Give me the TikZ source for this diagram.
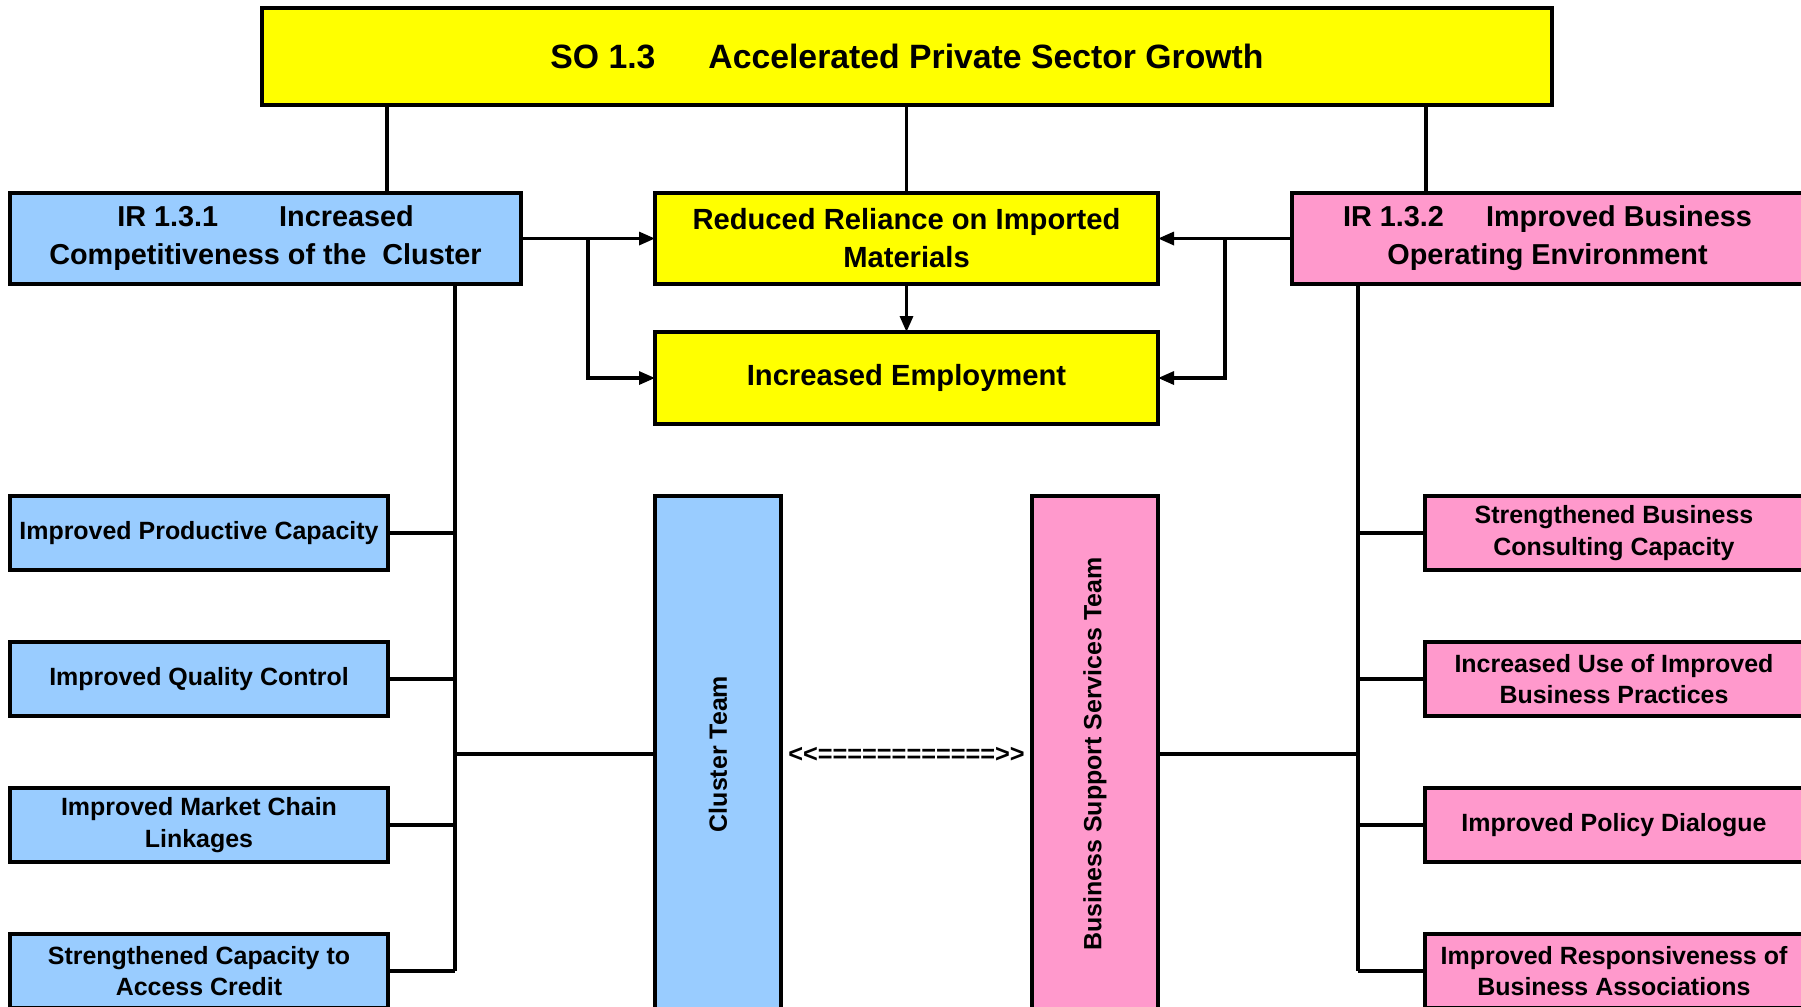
\documentclass[tikz,border=0pt]{standalone}
\usepackage{fontspec}
\setmainfont{Liberation Sans}
\usetikzlibrary{positioning,arrows.meta}

\definecolor{soyellow}{RGB}{255,255,0}
\definecolor{irblue}{RGB}{153,204,255}
\definecolor{irpink}{RGB}{255,153,204}

\begin{document}
\begin{tikzpicture}[line width=0.9pt]
        \tikzstyle{box}=[draw, line width=0.9pt, align=center, inner sep=0pt, outer sep=0pt];
        \tikzstyle{irbox}=[box, minimum width=5.11cm, minimum height=0.91cm, font=\fontsize{8.2}{10.8}\selectfont\bfseries];
        \tikzstyle{midbox}=[box, fill=soyellow, minimum width=5.03cm, minimum height=0.91cm, font=\fontsize{8.3}{10.8}\selectfont\bfseries];
        \tikzstyle{subbox}=[box, minimum width=3.78cm, minimum height=0.74cm, font=\fontsize{7.1}{9}\selectfont\bfseries];
        \tikzstyle{teambox}=[box, minimum width=1.26cm, minimum height=5.16cm, font=\fontsize{7.1}{9}\selectfont\bfseries];
        \tikzstyle{arr}=[-{Triangle[length=1.6mm,width=1.3mm]}];
        \useasboundingbox (0,0) rectangle (18.01,-10.06);
        \clip (0,0) rectangle (18.01,-10.06);
        \node[box, fill=soyellow, minimum width=12.9cm, minimum height=0.97cm, font=\fontsize{9.6}{11.5}\selectfont\bfseries] (so) at (9.07,-0.565) {SO 1.3\hspace{0.53cm}Accelerated Private Sector Growth};
        \node[irbox, fill=irblue] (ir1) at (2.655,-2.385) {IR 1.3.1\hspace{0.61cm}Increased\\Competitiveness of the\ \ Cluster};
        \node[irbox, fill=irpink] (ir2) at (15.475,-2.385) {IR 1.3.2\hspace{0.42cm}Improved Business\\Operating Environment};
        \node[midbox] (red) at (9.065,-2.385) {Reduced Reliance on Imported\\Materials};
        \node[midbox, minimum height=0.92cm] (emp) at (9.065,-3.78) {Increased Employment};
        \node[subbox, fill=irblue] (lb1) at (1.99,-5.33) {Improved Productive Capacity};
        \node[subbox, fill=irblue, below=0.72cm of lb1] (lb2) {Improved Quality Control};
        \node[subbox, fill=irblue, below=0.72cm of lb2] (lb3) {Improved Market Chain\\Linkages};
        \node[subbox, fill=irblue, below=0.72cm of lb3] (lb4) {Strengthened Capacity to\\Access Credit};
        \node[subbox, fill=irpink] (rb1) at (16.14,-5.33) {Strengthened Business\\Consulting Capacity};
        \node[subbox, fill=irpink, below=0.72cm of rb1] (rb2) {Increased Use of Improved\\Business Practices};
        \node[subbox, fill=irpink, below=0.72cm of rb2] (rb3) {Improved Policy Dialogue};
        \node[subbox, fill=irpink, below=0.72cm of rb3] (rb4) {Improved Responsiveness of\\Business Associations};
        \node[teambox, fill=irblue] (ct) at (7.18,-7.54) {\rotatebox{90}{Cluster Team}};
        \node[teambox, fill=irpink] (bt) at (10.95,-7.54) {\rotatebox{90}{Business Support Services Team}};
        \node[font=\fontsize{7.2}{8}\selectfont\bfseries] (link) at (9.065,-7.55) {<\kern0pt<============>\kern0pt>};
        \coordinate (so1) at (3.87,0);
        \coordinate (so3) at (14.26,0);
        \coordinate (lbus) at (4.55,0);
        \coordinate (rbus) at (13.58,0);
        \coordinate (lfork) at (5.88,0);
        \coordinate (rfork) at (12.25,0);
        \draw (so.south -| so1) -- (ir1.north -| so1);
        \draw (so.south -| red.north) -- (red.north);
        \draw (so.south -| so3) -- (ir2.north -| so3);
        \draw[arr] (ir1.east) -- (red.west);
        \draw[arr] (ir1.east -| lfork) |- (emp.west);
        \draw[arr] (ir2.west) -- (red.east);
        \draw[arr] (ir2.west -| rfork) |- (emp.east);
        \draw[arr] (red.south) -- (emp.north);
        \draw (ir1.south -| lbus) -- (lb4.east -| lbus);
        \draw (ir2.south -| rbus) -- (rb4.west -| rbus);
        \foreach \i in {1,...,4} {
            \draw (lb\i.east) -- (lb\i.east -| lbus);
            \draw (rb\i.west) -- (rb\i.west -| rbus);
        }
        \draw (ct.west) -- (ct.west -| lbus);
        \draw (bt.east) -- (bt.east -| rbus);
    \end{tikzpicture}
\end{document}
